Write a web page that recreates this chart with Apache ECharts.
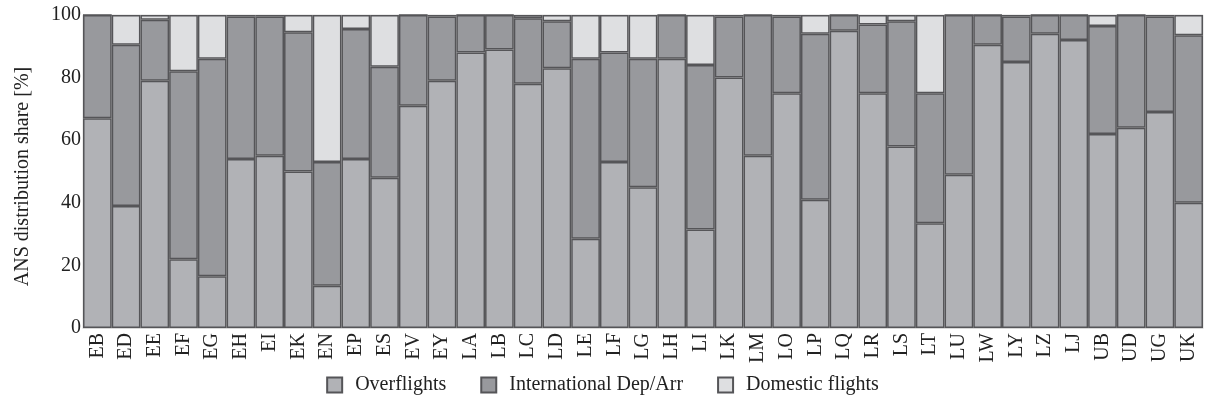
<!DOCTYPE html>
<html>
<head>
<meta charset="utf-8">
<script src="https://cdn.jsdelivr.net/npm/echarts@6/dist/echarts.min.js"></script>
<style>
  html, body { margin: 0; padding: 0; background: #fff; }
  #chart { width: 1205px; height: 410px; }
</style>
</head>
<body>
<div id="chart"></div>
<script>
// ANS distribution share per air navigation service area (percent of flights)
const categories = ['EB','ED','EE','EF','EG','EH','EI','EK','EN','EP','ES','EV','EY','LA','LB','LC','LD','LE','LF','LG','LH','LI','LK','LM','LO','LP','LQ','LR','LS','LT','LU','LW','LY','LZ','LJ','UB','UD','UG','UK'];
const overflights = [67, 39, 79, 22, 16.5, 54, 55, 50, 13.5, 54, 48, 71, 79, 88, 89, 78, 83, 28.5, 53, 45, 86, 31.5, 80, 55, 75, 41, 95, 75, 58, 33.5, 49, 90.5, 85, 94, 92, 62, 64, 69, 40];
const international = [33, 51.5, 19.5, 60, 69.5, 45.5, 44.5, 44.5, 39.5, 41.5, 35.5, 29, 20.5, 12, 11, 21, 15, 57.5, 35, 41, 14, 52.5, 19.5, 45, 24.5, 53, 5, 22, 40, 41.5, 51, 9.5, 14.5, 6, 8, 34.5, 36, 30.5, 53.5];
const domestic = [0, 9.5, 1.5, 18, 14, 0.5, 0.5, 5.5, 47, 4.5, 16.5, 0, 0.5, 0, 0, 1, 2, 14, 12, 14, 0, 16, 0.5, 0, 0.5, 6, 0, 3, 2, 25, 0, 0, 0.5, 0, 0, 3.5, 0, 0.5, 6.5];
const yTicks = [0, 20, 40, 60, 80, 100];

const font = 'Liberation Serif, Times New Roman, serif';
const edge = '#555558';

function barSeries(name, data, color) {
  return {
    name: name,
    type: 'bar',
    stack: 'share',
    data: data,
    barCategoryGap: 0,
    itemStyle: { color: color, borderColor: edge, borderWidth: 1.5 },
    emphasis: { disabled: true }
  };
}

const chart = echarts.init(document.getElementById('chart'), null, { renderer: 'canvas' });
chart.setOption({
  animation: false,
  textStyle: { fontFamily: font },
  grid: { left: 83, right: 2, top: 15, bottom: 82, show: true, borderColor: '#d8d8d8', borderWidth: 1 },
  legend: {
    bottom: 10,
    left: 'center',
    itemWidth: 15,
    itemHeight: 15,
    itemGap: 34,
    icon: 'rect',
    textStyle: { fontFamily: font, fontSize: 20, color: '#222', padding: [0, 0, 0, 8] },
    data: ['Overflights', 'International Dep/Arr', 'Domestic flights']
  },
  xAxis: {
    type: 'category',
    data: categories,
    axisLine: { show: true, lineStyle: { color: '#d8d8d8' } },
    axisTick: { show: false },
    axisLabel: { rotate: 90, fontFamily: font, fontSize: 20, color: '#222', margin: 5, interval: 0 }
  },
  yAxis: {
    type: 'value',
    min: 0,
    max: 100,
    interval: 20,
    name: 'ANS distribution share [%]',
    nameLocation: 'middle',
    nameGap: 50,
    nameTextStyle: { fontFamily: font, fontSize: 20, color: '#222', padding: [0, 10, 0, 0] },
    axisLine: { show: true, lineStyle: { color: '#d8d8d8' } },
    axisTick: { show: false },
    splitLine: { show: false },
    axisLabel: {
      fontFamily: font, fontSize: 20, color: '#222', margin: 2,
      formatter: v => yTicks.includes(v) ? String(v) : ''
    }
  },
  series: [
    barSeries('Overflights', overflights, '#b1b2b6'),
    barSeries('International Dep/Arr', international, '#98999d'),
    barSeries('Domestic flights', domestic, '#dedfe1')
  ]
});
</script>
</body>
</html>
